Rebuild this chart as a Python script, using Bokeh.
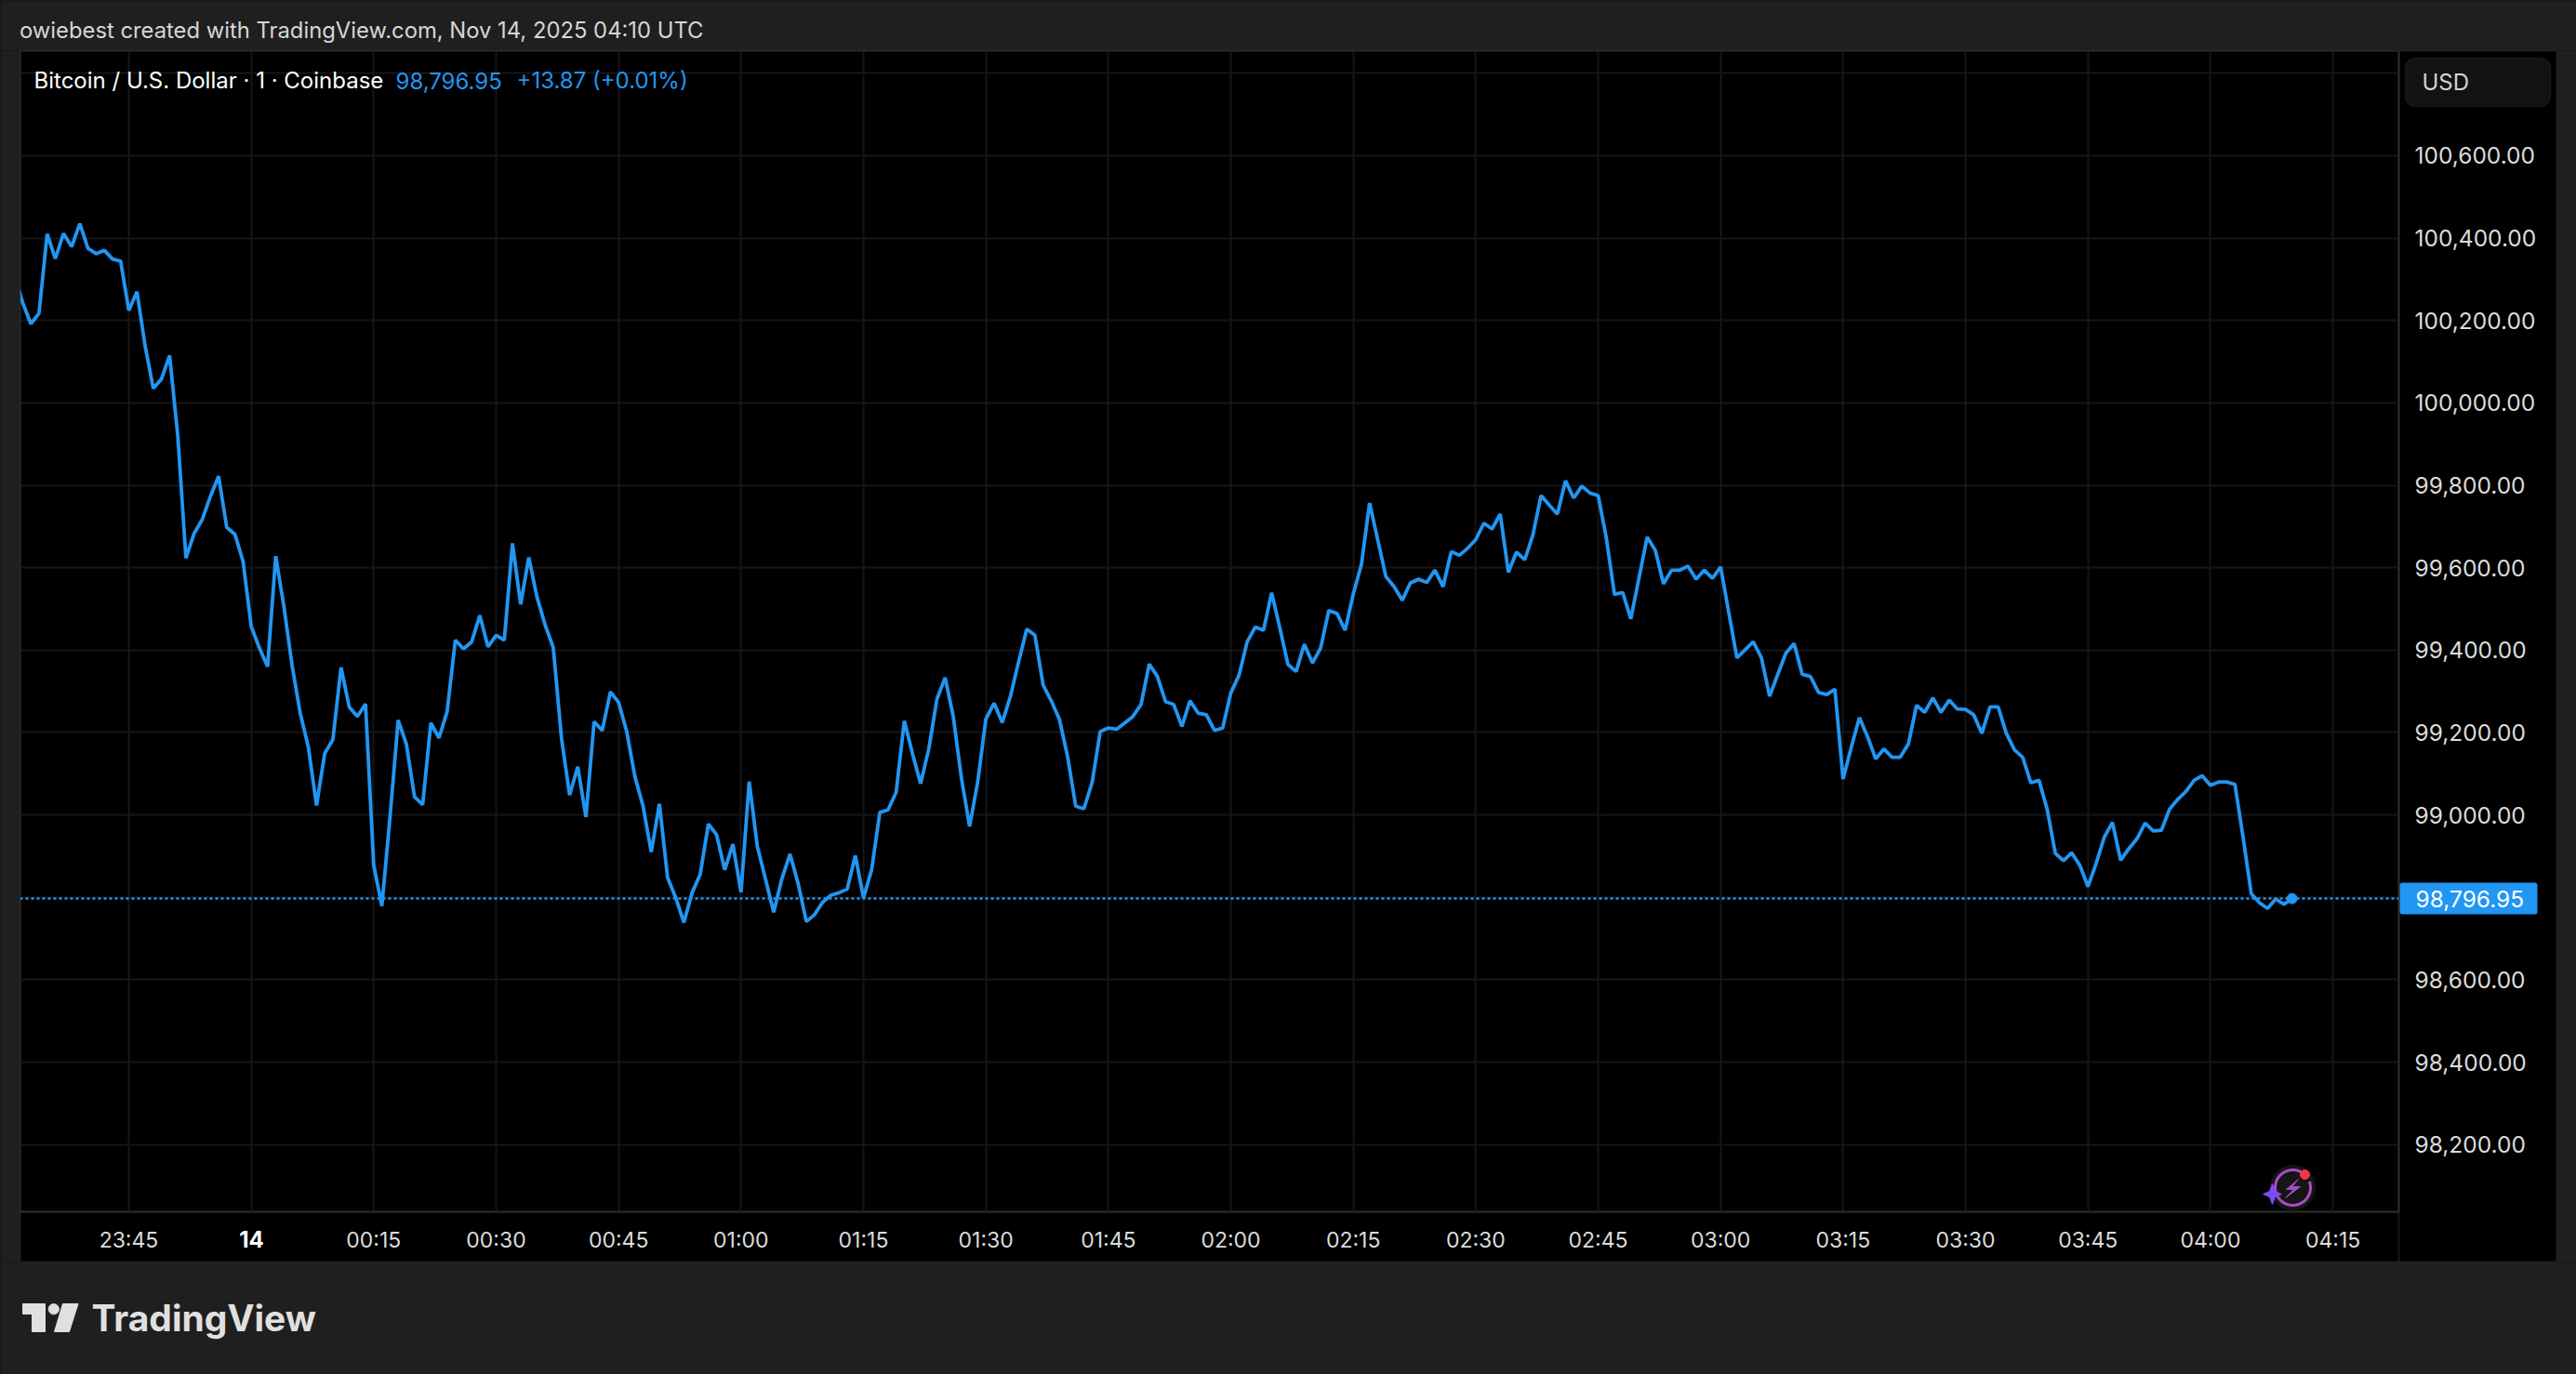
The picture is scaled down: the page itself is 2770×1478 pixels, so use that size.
import numpy as np
from bokeh.plotting import figure
from bokeh.embed import file_html
from bokeh.resources import INLINE
from bokeh.models import BoxAnnotation, Label, Range1d, Span, FixedTicker, NumeralTickFormatter

# Bitcoin close price, one value per minute, first value 14 minutes before 23:45
PRICES = [
    100310, 100243, 100192, 100217, 100410, 100350, 100411, 100379, 100435, 100375,
    100362, 100370, 100349, 100344,
    100224, 100270, 100138, 100035, 100058, 100115, 99920, 99623, 99683, 99717,
    99773, 99822, 99698, 99681, 99615, 99457, 99405, 99360, 99628, 99506,
    99363, 99247, 99164, 99023, 99149, 99183, 99358, 99262, 99239, 99269,
    98878, 98779, 98995, 99230, 99172, 99044, 99025, 99223, 99187, 99251,
    99424, 99403, 99420, 99484, 99408, 99436, 99424, 99659, 99511, 99625,
    99529, 99461, 99406, 99187, 99048, 99117, 98995, 99226, 99205, 99299,
    99273, 99202, 99093, 99021, 98910, 99027, 98848, 98799, 98739, 98811,
    98856, 98978, 98952, 98867, 98929, 98812, 99081, 98923, 98844, 98764,
    98845, 98905, 98833, 98741, 98758, 98788, 98805, 98811, 98820, 98901,
    98799, 98867, 99006, 99012, 99055, 99228, 99149, 99076, 99160, 99281,
    99333, 99239, 99089, 98972, 99081, 99233, 99271, 99224, 99288, 99371,
    99451, 99436, 99316, 99277, 99232, 99142, 99021, 99015, 99078, 99202,
    99211, 99208, 99223, 99239, 99268, 99366, 99336, 99275, 99268, 99215,
    99277, 99247, 99243, 99205, 99211, 99296, 99339, 99420, 99456, 99448,
    99539, 99454, 99365, 99348, 99414, 99369, 99405, 99496, 99489, 99448,
    99536, 99608, 99757, 99667, 99578, 99554, 99521, 99563, 99572, 99564,
    99594, 99554, 99639, 99630, 99647, 99668, 99708, 99694, 99730, 99589,
    99638, 99619, 99679, 99775, 99752, 99730, 99811, 99769, 99798, 99781,
    99775, 99672, 99535, 99540, 99476, 99575, 99674, 99642, 99561, 99594,
    99594, 99604, 99572, 99594, 99574, 99602, 99491, 99381, 99401, 99420,
    99381, 99288, 99341, 99393, 99416, 99341, 99336, 99297, 99292, 99305,
    99087, 99164, 99236, 99190, 99136, 99160, 99140, 99140, 99172, 99266,
    99249, 99284, 99249, 99279, 99257, 99256, 99243, 99198, 99262, 99262,
    99198, 99158, 99140, 99078, 99084, 99014, 98907, 98889, 98908, 98878,
    98826, 98882, 98946, 98982, 98890, 98918, 98942, 98980, 98961, 98963,
    99014, 99038, 99057, 99084, 99095, 99072, 99080, 99080, 99074, 98946,
    98809, 98787, 98773, 98796, 98783, 98796.95,
]
MINUTES = list(range(-14, -14 + len(PRICES)))
LAST_PRICE = 98796.95

Y_TICKS = [98200, 98400, 98600, 98800, 99000, 99200, 99400, 99600, 99800,
           100000, 100200, 100400, 100600, 100800]
X_TICKS = [0, 15, 30, 45, 60, 75, 90, 105, 120, 135, 150, 165, 180, 195, 210, 225, 240, 255, 270]
X_LABELS = ["23:45", "14", "00:15", "00:30", "00:45", "01:00", "01:15", "01:30", "01:45", "02:00",
            "02:15", "02:30", "02:45", "03:00", "03:15", "03:30", "03:45", "04:00", "04:15"]

HEADER = "owiebest created with TradingView.com, Nov 14, 2025 04:10 UTC"
TITLE = "Bitcoin / U.S. Dollar · 1 · Coinbase"
QUOTE = "98,796.95"
CHANGE = "+13.87 (+0.01%)"

BG = "#1f1f1f"
EDGE = "#2e2e2e"
GRID = "#161616"
BLUE = "#2196f3"
FONT = "Inter"

W, H = 2770, 1478
L, R, T, B = 21, 2579, 54, 1303

PX_MIN = 8.778
PX_200 = 88.65
p = figure(width=W, height=H, output_backend="svg", toolbar_location=None,
           x_range=Range1d((L - 138) / PX_MIN, (R - 138) / PX_MIN),
           y_range=Range1d(98200 - (B - 1230.7) / PX_200 * 200, 98200 + (1230.7 - T) / PX_200 * 200),
           x_axis_location="below", y_axis_location="right",
           min_border_left=L, min_border_right=W - R, min_border_top=T, min_border_bottom=H - B,
           frame_width=R - L, frame_height=B - T,
           background_fill_color="#000000", border_fill_color="#000000")
p.outline_line_color = EDGE
p.outline_line_width = 2

p.xaxis.ticker = FixedTicker(ticks=X_TICKS)
p.xaxis.major_label_overrides = {t: ("" if lab == "14" else lab) for t, lab in zip(X_TICKS, X_LABELS)}
p.yaxis.ticker = FixedTicker(ticks=Y_TICKS)
p.yaxis.formatter = NumeralTickFormatter(format="0,0.00")
p.yaxis.major_label_overrides = {100800: "", 98800: ""}
for ax in (p.xaxis[0], p.yaxis[0]):
    ax.axis_line_color = None
    ax.major_tick_line_color = None
    ax.minor_tick_line_color = None
    ax.major_tick_out = 0
    ax.major_tick_in = 0
    ax.major_label_text_color = "#dcdcdc"
    ax.major_label_text_font = FONT
p.xaxis.major_label_text_font_size = "23px"
p.yaxis.major_label_text_font_size = "24.5px"
p.xaxis.major_label_standoff = 16
p.yaxis.major_label_standoff = 17

p.xgrid.grid_line_color = GRID
p.ygrid.grid_line_color = GRID
p.xgrid.grid_line_width = 2
p.ygrid.grid_line_width = 2

p.add_layout(Span(location=LAST_PRICE, dimension="width", line_color=BLUE, line_width=2.5, line_dash="3 3"))
p.line(MINUTES, PRICES, line_color=BLUE, line_width=3.8)
p.scatter([MINUTES[-1]], [PRICES[-1]], size=11, fill_color=BLUE, line_color=BLUE)

# Transparent page-sized overlay holding the window chrome: frame bands, header, logo, tag, button
o = figure(width=W, height=H, output_backend="svg", toolbar_location=None,
           x_range=Range1d(0, W), y_range=Range1d(H, 0), x_axis_type=None, y_axis_type=None,
           min_border=0, background_fill_color=None, border_fill_color=None,
           styles={"position": "absolute", "left": "0px", "top": "0px"})
o.outline_line_color = None
o.xgrid.visible = False
o.ygrid.visible = False


def box(x0, y0, x1, y1, fill, line=None, width=2, radius=0, level="underlay"):
    o.add_layout(BoxAnnotation(left=x0, right=x1, top=y0, bottom=y1, fill_color=fill, fill_alpha=1 if fill else 0,
                               line_color=line, line_width=width, border_radius=radius, editable=False,
                               level=level))


def text(x, y, s, size, color, style="normal", align="left", font=FONT):
    o.add_layout(Label(x=x, y=y, text=s, text_font=font, text_font_size=f"{size}px", text_color=color,
                       text_font_style=style, text_align=align, text_baseline="middle"))


# outer bands round the chart
box(0, 0, W, T, BG)
box(0, 1357, W, H, BG)
box(0, T, L, 1357, BG)
box(2749, T, W, 1357, BG)
# panel borders
box(L, T, 2749, 1357, None, EDGE)
box(R, T, 2749, 1357, None, EDGE)
box(L, B, R, 1357, None, EDGE)

# texts
text(20.5, 32, HEADER, 23.8, "#d6d6d6")
text(36, 86, TITLE, 24, "#ffffff")
text(425, 86, QUOTE, 24, BLUE)
text(555, 86, CHANGE, 24, BLUE)
text(270, 1332, X_LABELS[1], 24, "#ffffff", style="bold", align="center")

# currency button
box(2586, 62, 2742, 114, "#121212", EDGE, radius=11)
text(2604, 88, "USD", 24, "#d4d4d4")

# last price tag
box(2580, 949, 2728, 983, BLUE, None, radius=3)
text(2597, 966, "98,796.95", 24.5, "#ffffff")

# TradingView logo
LOGO = "#e0e0e0"
o.patch([24, 48, 48, 34, 34, 24], [1402, 1402, 1432, 1432, 1413, 1413], color=LOGO)
ang = np.linspace(0, 2 * np.pi, 40)
o.patch(57.3 + 5.6 * np.cos(ang), 1407.7 + 5.6 * np.sin(ang), color=LOGO)
o.patch([67, 83.5, 74, 58], [1402, 1402, 1432, 1432], color=LOGO)
text(98, 1417, "TradingView", 39, LOGO, style="bold")

# lightning icon
ang = np.linspace(0, 2 * np.pi, 60)
o.patch(2465 + 24 * np.cos(ang), 1277 + 24 * np.sin(ang), color="#151515")
arc = np.linspace(-0.35, 2 * np.pi - 0.9, 60)
o.line(2465 + 19 * np.cos(arc), 1277 + 19 * np.sin(arc), line_color="#a84cc4", line_width=3)
o.patch([2471, 2458, 2466, 2457, 2473, 2464], [1268, 1279, 1279, 1288, 1276, 1276], color="#a84cc4")
o.patch([2443, 2446, 2453, 2446, 2443, 2440, 2433, 2440], [1273, 1281, 1284, 1287, 1295, 1287, 1284, 1281],
        color="#7a4df5")
ang = np.linspace(0, 2 * np.pi, 30)
o.patch(2478 + 5 * np.cos(ang), 1263 + 5 * np.sin(ang), color="#f23645")

html = file_html([p, o], INLINE)
html = html.replace("</head>", "<style>html,body{background:#1f1f1f;overflow:hidden;}</style></head>", 1)
open("out.html", "w").write(html)
